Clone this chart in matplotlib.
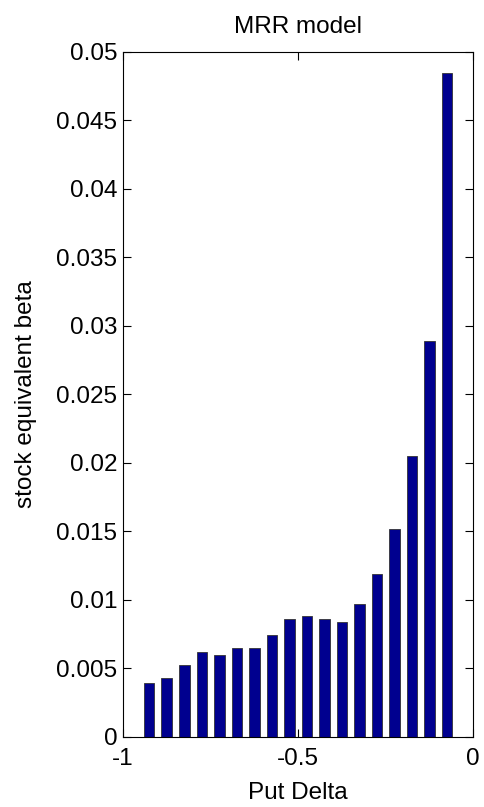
import numpy as np
import matplotlib
matplotlib.use('Agg')
import matplotlib.pyplot as plt

plt.rcParams['font.family'] = ['Liberation Sans', 'DejaVu Sans']

# put delta bucket centres and stock equivalent beta
delta = [-0.925, -0.875, -0.825, -0.775, -0.725, -0.675, -0.625, -0.575, -0.525,
         -0.475, -0.425, -0.375, -0.325, -0.275, -0.225, -0.175, -0.125, -0.075]
beta = [0.0039, 0.0043, 0.0052, 0.0062, 0.0060, 0.0065, 0.0065, 0.0074, 0.0086,
        0.0088, 0.0086, 0.0084, 0.0097, 0.0119, 0.0152, 0.0205, 0.0289, 0.0485]

fig = plt.figure(figsize=(4.85, 8.07), dpi=100)
ax = fig.add_axes([0.2536, 0.0871, 0.7217, 0.8485])

ax.bar(delta, beta, width=0.03, color=(0, 0, 0.56), edgecolor='#333333', linewidth=0.6)

ax.set_xlim(-1, 0)
ax.set_ylim(0, 0.05)
ax.set_xticks([-1, -0.5, 0])
ax.set_xticklabels(['-1', '-0.5', '0'])
yt = np.arange(0, 0.0501, 0.005)
ax.set_yticks(yt)
ax.set_yticklabels(['0', '0.005', '0.01', '0.015', '0.02', '0.025', '0.03',
                    '0.035', '0.04', '0.045', '0.05'])
ax.tick_params(direction='in', top=True, right=True, length=6, width=0.8,
               labelsize=17.5)
ax.tick_params(axis='x', pad=8)
ax.tick_params(axis='y', pad=4)
for s in ax.spines.values():
    s.set_linewidth(0.8)

ax.set_title('MRR model', fontsize=17.5, pad=14)
ax.set_xlabel('Put Delta', fontsize=17.5, labelpad=9)
ax.set_ylabel('stock equivalent beta', fontsize=17.5, labelpad=14)

fig.savefig('out.png', dpi=100)
